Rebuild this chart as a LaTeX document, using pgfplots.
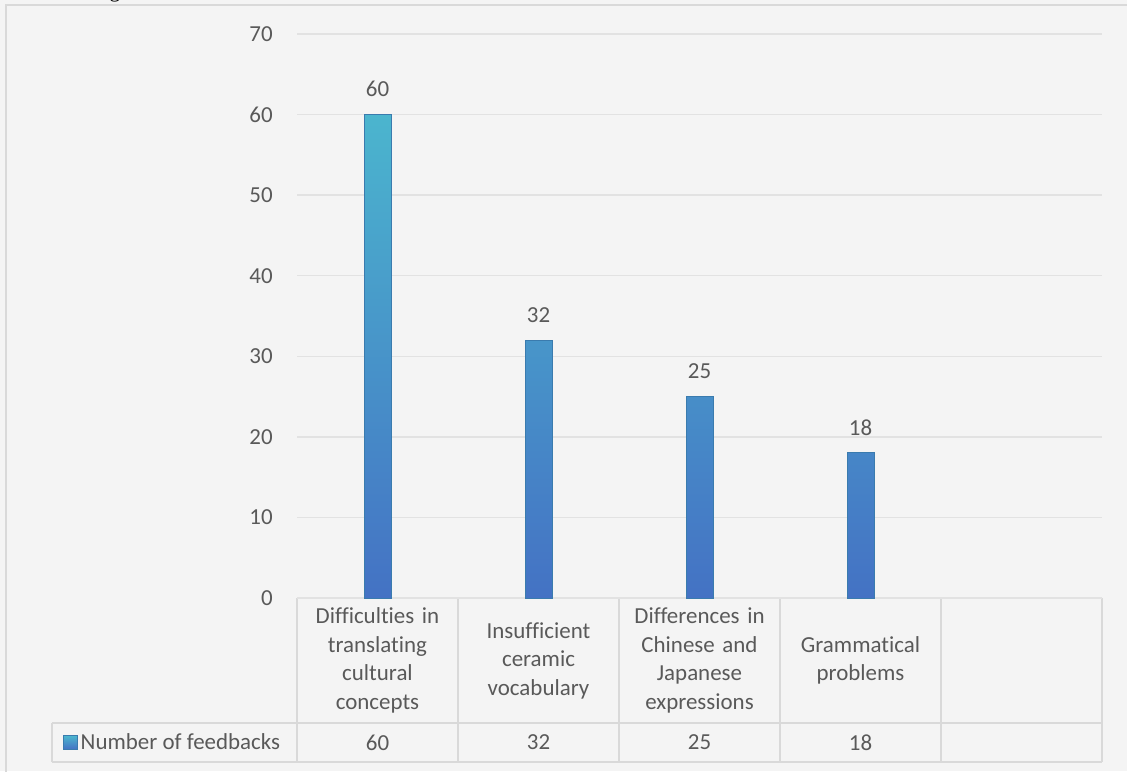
\documentclass[border=0pt]{standalone}
\usepackage{pgfplots}
\pgfplotsset{compat=1.18}
\usepackage{fontspec}
\setmainfont{Carlito}[Ligatures=NoCommon]
\newfontfamily\capserif{Liberation Serif}
\definecolor{bg}{HTML}{F4F4F4}
\definecolor{framec}{HTML}{D9D9D9}
\definecolor{gridc}{HTML}{E2E2E2}
\definecolor{txt}{HTML}{595959}
\definecolor{bartop}{HTML}{4BB5CE}
\definecolor{barbot}{HTML}{4472C4}
\definecolor{bardraw}{HTML}{3A7BAE}
\newcommand{\lbl}{\fontsize{17.2}{21.4}\selectfont}
\begin{document}
\begin{tikzpicture}[x=0.75pt,y=0.75pt]
\fill[bg] (0,0) rectangle (1127,771);
\useasboundingbox (0,0) rectangle (1127,771);
% partial caption glyph at top
\node[anchor=base, inner sep=0, font=\capserif\fontsize{16}{16}\selectfont] at (115,773) {g};
% outer frame
\draw[framec, line width=1.5pt] (6,-5) -- (6,766) -- (1135,766);
% table lines
\begin{scope}[framec, line width=1.2pt]
\draw (297,173) -- (1102,173);
\draw (52,48) -- (1102,48);
\draw (52,9) -- (1102,9);
\draw (52,48) -- (52,9);
\foreach \k in {0,...,5} {\draw ({297+161*\k},173) -- ({297+161*\k},9);}
\end{scope}
\begin{axis}[
  at={(222.75pt,129.75pt)}, anchor=south west,
  scale only axis, width=603.75pt, height=423pt,
  xmin=-0.5, xmax=4.5, ymin=0, ymax=70,
  ytick={0,10,...,70},
  xtick={0,1,2,3,4},
  xticklabels={{Difficulties in\\translating\\cultural\\concepts},{Insufficient\\ceramic\\vocabulary},{Differences in\\Chinese and\\Japanese\\expressions},{Grammatical\\problems},{}},
  xticklabel style={text width=112pt, align=center, anchor=center, yshift=-46.9pt, font=\lbl, text=txt, inner sep=0pt},
  yticklabel style={anchor=east, inner sep=0pt, xshift=-18pt, font=\lbl, text=txt},
  /pgf/number format/assume math mode=true,
  major tick length=0pt,
  axis line style={draw=none},
  ymajorgrids, grid style={gridc, line width=1.1pt},
  clip=false,
  legend style={at={(axis description cs:-0.2907,-0.2562)}, anchor=west, draw=none, fill=none, inner sep=0pt, font=\lbl, text=txt},
  legend cell align=left,
  legend image code/.code={\draw[bardraw, line width=0.6pt, top color=bartop, bottom color=barbot] (-2.5pt,-5pt) rectangle (8pt,5pt);},
]
\addplot[ybar, bar width=20.25pt, draw=bardraw, line width=0.75pt, top color=bartop, bottom color=barbot,
  nodes near coords, nodes near coords style={font=\lbl, text=txt, anchor=south, inner sep=0pt, yshift=12.75pt}]
  coordinates {(0,60) (1,32) (2,25) (3,18)};
\addlegendentry{Number of feedbacks}
\foreach \v [count=\i from 0] in {60,32,25,18} {
  \edef\tmp{\noexpand\node[font=\noexpand\lbl, text=txt, anchor=center] at (axis cs:\i,0) [yshift=-108.4pt] {\v};}
  \tmp
}
\end{axis}
\end{tikzpicture}
\end{document}
